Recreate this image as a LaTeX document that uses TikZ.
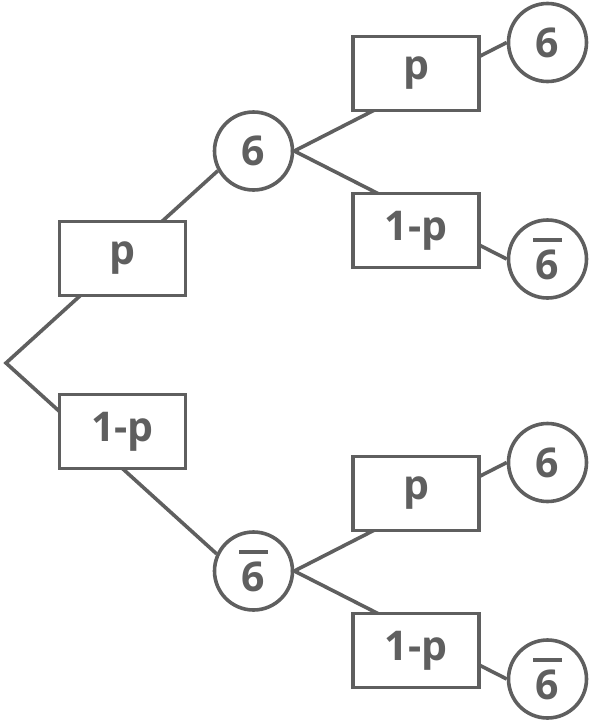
\documentclass[tikz,border=0pt]{standalone}
\usepackage{fontspec}
\newfontfamily\treefont{Open Sans}
\usetikzlibrary{positioning}
\definecolor{treegray}{RGB}{95,95,95}
\newcommand{\notsix}{\vbox{\hrule height 4pt\kern 8pt\hbox{\kern 2.5pt 6\kern 2.5pt}}}

\begin{document}
\begin{tikzpicture}[
    x=1pt, y=-1pt,
    probbox/.style={draw=treegray, fill=white, line width=3.6pt, minimum width=126pt, minimum height=74pt, inner sep=0pt, font=\treefont\bfseries\fontsize{41}{46}\selectfont, text=treegray},
    outcome/.style={draw=treegray, fill=white, circle, line width=3.6pt, minimum size=78pt, inner sep=0pt, font=\treefont\bfseries\fontsize{41}{46}\selectfont, text=treegray},
    branch/.style={draw=treegray, line width=3.6pt},
]
\useasboundingbox (0,0) rectangle (591,723);

% first throw
\coordinate (root) at (6,363);
\node[outcome] (six) at (253.5,151) {6};
\node[outcome] (nosix) at (253.5,571) {\notsix};

% second throw
\node[outcome] (sixsix) at (547.5,42.5) {6};
\node[outcome] (sixno) at (547.5,259) {\notsix};
\node[outcome] (nosix6) at (547.5,462.5) {6};
\node[outcome] (nono) at (547.5,679) {\notsix};

% branches
\draw[branch] (six.209) -- (root) -- (nosix.155);
\draw[branch] (sixsix.west) -- (six.east) -- (sixno.west);
\draw[branch] (nosix6.west) -- (nosix.east) -- (nono.west);

% probabilities
\node[probbox] (p1) at (122.5,258.5) {p};
\node[probbox] (q1) at (122.5,431.5) {1-p};
\node[probbox] (p2) at (416,73.5) {p};
\node[probbox] (q2) at (416,230.5) {1-p};
\node[probbox] (p3) at (416,493.5) {p};
\node[probbox] (q3) at (416,650.5) {1-p};

\end{tikzpicture}
\end{document}
